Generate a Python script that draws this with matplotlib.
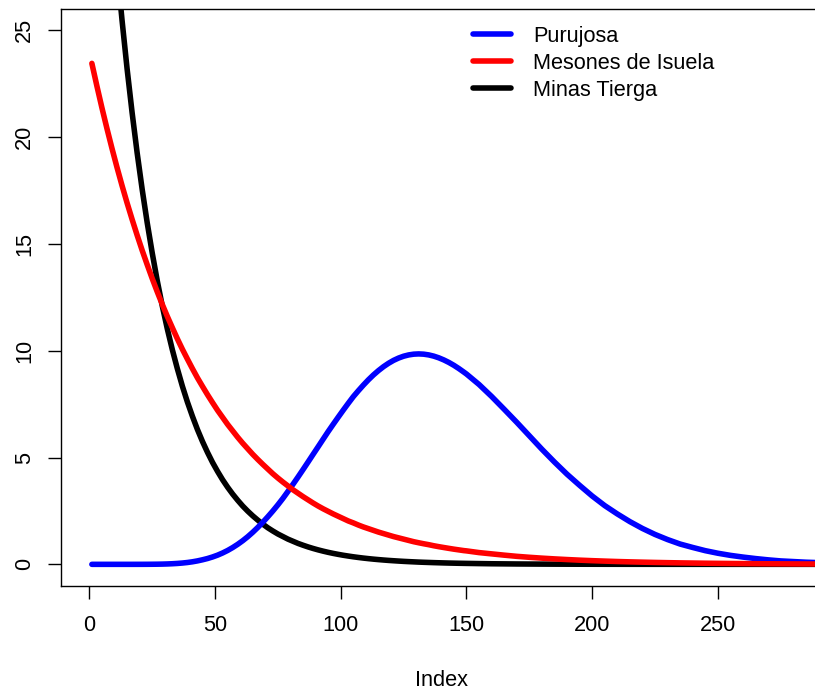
import matplotlib
matplotlib.use("Agg")
import matplotlib.pyplot as plt

# Sample positions (Index): every 2 up to 149, then every 5 up to 300
index = list(range(1, 150, 2)) + list(range(150, 301, 5))

purujosa = [0.0, 0.0, 0.0, 0.0, 0.0, 0.0, 0.0, 0.0, 0.0, 0.0005, 0.001, 0.002, 0.004, 0.0066,
            0.011, 0.018, 0.028, 0.042, 0.061, 0.086, 0.119, 0.161, 0.213, 0.272, 0.345,
            0.430, 0.532, 0.649, 0.784, 0.936, 1.105, 1.293, 1.501, 1.727, 1.970, 2.228,
            2.499, 2.786, 3.089, 3.414, 3.746, 4.087, 4.436, 4.790, 5.148, 5.502, 5.860,
            6.216, 6.556, 6.890, 7.219, 7.539, 7.850, 8.126, 8.390, 8.638, 8.865, 9.069,
            9.252, 9.411, 9.547, 9.656, 9.742, 9.802, 9.838, 9.850, 9.838, 9.803, 9.746,
            9.667, 9.568, 9.451, 9.316, 9.163, 8.996,
            8.91, 8.42, 7.86, 7.26, 6.65, 6.02, 5.39, 4.79, 4.22, 3.70, 3.20, 2.75, 2.36,
            2.00, 1.68, 1.40, 1.16, 0.95, 0.79, 0.64, 0.52, 0.42, 0.34, 0.27, 0.21, 0.16,
            0.13, 0.10, 0.08, 0.06, 0.05]

mesones = [23.45, 22.39, 21.37, 20.40, 19.47, 18.58, 17.73, 16.92, 16.15, 15.41, 14.70,
           14.03, 13.38, 12.76, 12.17, 11.61, 11.08, 10.56, 10.07, 9.61, 9.16, 8.73, 8.33,
           7.94, 7.57, 7.21, 6.88, 6.55, 6.25, 5.95, 5.67, 5.41, 5.15, 4.91, 4.68, 4.46,
           4.24, 4.04, 3.85, 3.67, 3.49, 3.33, 3.17, 3.02, 2.87, 2.73, 2.60, 2.48, 2.36,
           2.25, 2.14, 2.03, 1.94, 1.84, 1.75, 1.67, 1.59, 1.51, 1.44, 1.37, 1.30, 1.24,
           1.18, 1.12, 1.06, 1.01, 0.963, 0.92, 0.870, 0.827, 0.787, 0.748, 0.71, 0.676,
           0.642,
           0.63, 0.55, 0.49, 0.43, 0.375, 0.33, 0.29, 0.255, 0.224, 0.196, 0.172, 0.151,
           0.132, 0.116, 0.102, 0.089, 0.078, 0.068, 0.060, 0.052, 0.046, 0.040, 0.035,
           0.030, 0.026, 0.023, 0.020, 0.017, 0.015, 0.013, 0.011]

minas = [44.5, 40.55, 36.95, 33.67, 30.68, 27.95, 25.47, 23.21, 21.15, 19.27, 17.56, 16.00,
         14.58, 13.28, 12.10, 11.03, 10.05, 9.16, 8.34, 7.60, 6.93, 6.31, 5.75, 5.24, 4.77,
         4.35, 3.96, 3.61, 3.29, 3.00, 2.73, 2.49, 2.27, 2.07, 1.88, 1.71, 1.56, 1.42, 1.30,
         1.18, 1.08, 0.98, 0.895, 0.815, 0.743, 0.677, 0.617, 0.562, 0.512, 0.467, 0.425,
         0.388, 0.353, 0.322, 0.293, 0.267, 0.243, 0.222, 0.202, 0.184, 0.168, 0.153,
         0.139, 0.127, 0.116, 0.105, 0.096, 0.088, 0.080, 0.073, 0.066, 0.060, 0.055,
         0.050, 0.046,
         0.044, 0.035, 0.027, 0.022, 0.017, 0.014, 0.011, 0.0086, 0.0068, 0.0054, 0.0043,
         0.0034, 0.0027, 0.0021, 0.0017, 0.0013, 0.0011, 0.0008, 0.0007, 0.0005, 0.0004,
         0.0003, 0.0003, 0.0002, 0.0002, 0.0001, 0.0001, 0.0001, 0.0001, 0.0, 0.0]

labels = ["Purujosa", "Mesones de Isuela", "Minas Tierga"]
colors = ["#0000FF", "#FF0000", "#000000"]
xticks = [0, 50, 100, 150, 200, 250]
yticks = [0, 5, 10, 15, 20, 25]

plt.rcParams["font.family"] = ["Liberation Sans", "DejaVu Sans"]
FS = 15.7

W, H = 815, 693
fig = plt.figure(figsize=(W / 100, H / 100), dpi=100)
# plot region in pixels: left 61.2, right 821.4, top 8.9, bottom 585.7
ax = fig.add_axes([61.2 / W, (H - 585.7) / H, (821.4 - 61.2) / W, (585.7 - 8.9) / H])

lw = 4.0
style = dict(lw=lw, solid_capstyle="round", solid_joinstyle="round")
l_min, = ax.plot(index, minas, color=colors[2], zorder=3, **style)
l_pur, = ax.plot(index, purujosa, color=colors[0], zorder=4, **style)
l_mes, = ax.plot(index, mesones, color=colors[1], zorder=5, **style)

ax.set_xlim(-11.2, 291.2)
ax.set_ylim(-1.0, 26.0)
ax.set_xticks(xticks)
ax.set_yticks(yticks)
ax.set_xticklabels([str(v) for v in xticks])
ax.set_yticklabels([str(v) for v in yticks], rotation=90, va="center")

for s in ax.spines.values():
    s.set_linewidth(1.0)
    s.set_color("black")

ax.tick_params(axis="both", direction="out", length=9.4, width=1.0, labelsize=FS,
               colors="black")
ax.tick_params(axis="x", pad=12.0)
ax.tick_params(axis="y", pad=9.5)

ax.set_xlabel("Index", fontsize=FS, labelpad=24)

leg = ax.legend([l_pur, l_mes, l_min], labels, loc="upper left",
                bbox_to_anchor=(473 / W, 1 - 26 / H), bbox_transform=fig.transFigure,
                frameon=False, fontsize=FS, handlelength=1.75, handletextpad=1.0,
                labelspacing=0.27, borderaxespad=0, borderpad=0)

fig.savefig("out.png", dpi=100)
